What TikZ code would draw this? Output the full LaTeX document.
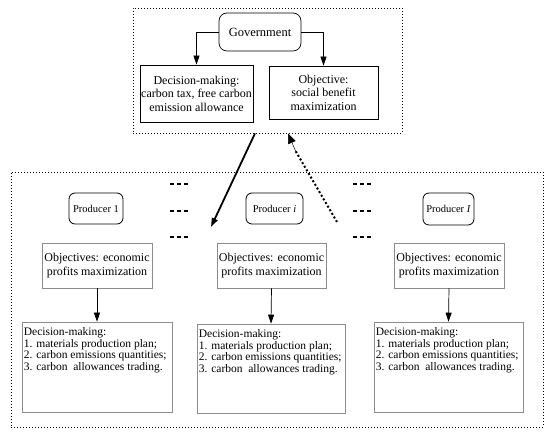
\documentclass[tikz,border=0pt]{standalone}
\usepackage{fontspec}
\setmainfont{Liberation Serif}
\usetikzlibrary{arrows.meta}
\begin{document}
\begin{tikzpicture}[x=1pt,y=-1pt,
	area/.style={draw, line width=0.8pt, dash pattern=on 0.9pt off 2.1pt, inner sep=0pt},
	blk/.style={draw, line width=0.7pt, inner sep=0pt, align=center, font=\fontsize{12}{13.5}\selectfont},
	gry/.style={draw=black!45, line width=0.7pt, inner sep=0pt, align=center, font=\fontsize{12}{14}\selectfont},
	prod/.style={draw, rounded corners=6pt, line width=0.8pt, inner sep=0pt, font=\fontsize{10.5}{12}\selectfont},
	dec/.style={anchor=north west, align=left, inner sep=0pt, font=\fontsize{11.5}{11.5}\selectfont},
	tip/.style={-{Triangle[length=9pt,width=6pt]}}]
	\useasboundingbox (0,0) rectangle (550,435);
	
	% government level
	\node[area, minimum width=269pt, minimum height=125pt] (govarea) at (267.5,70.5) {};
	\node[blk, rounded corners=8pt, minimum width=82pt, minimum height=38pt, font=\fontsize{12.5}{14}\selectfont] (gov) at (260,32) {Government};
	\node[blk, minimum width=113pt, minimum height=57pt] (govdec) at (196.5,93.5) {Decision-making:\\carbon tax, free carbon\\emission allowance};
	\node[blk, minimum width=109pt, minimum height=53pt] (govobj) at (323.5,92.5) {Objective:\\social benefit\\maximization};
	\draw[tip, line width=0.7pt] (gov.west) -| (govdec.north);
	\draw[tip, line width=0.7pt] (gov.east) -| (govobj.north);
	
	% producer level
	\node[area, minimum width=532pt, minimum height=255pt] (prodarea) at (277,299.5) {};
	\node[prod, minimum width=54pt, minimum height=31pt] (p1) at (96,208.5) {Producer 1};
	\node[prod, minimum width=57pt, minimum height=31pt] (pi) at (274.5,208.5) {Producer \textit{i}};
	\node[prod, minimum width=51pt, minimum height=32pt] (pI) at (448.5,209) {Producer \textit{I}};
	
	\node[gry, minimum width=110pt, minimum height=45pt] (obj1) at (97,265.5) {Objectives: economic\\profits maximization};
	\node[gry, minimum width=109pt, minimum height=45pt] (obji) at (271.5,265.5) {Objectives: economic\\profits maximization};
	\node[gry, minimum width=110pt, minimum height=45pt] (objI) at (449,265.5) {Objectives: economic\\profits maximization};
	
	\node[gry, minimum width=150pt, minimum height=90pt] (dec1) at (97,367) {};
	\node[gry, minimum width=148pt, minimum height=89pt] (deci) at (271,368.5) {};
	\node[gry, minimum width=149pt, minimum height=90pt] (decI) at (448.5,367) {};
	\node[dec] (dec1txt) at ([shift={(2pt,-6pt)}]dec1.north west) {Decision-making:\\1. materials production plan;\\2. carbon emissions quantities;\\3. carbon\ \ allowances trading.};
	\node[dec] (decitxt) at ([shift={(2pt,-6pt)}]deci.north west) {Decision-making:\\1. materials production plan;\\2. carbon emissions quantities;\\3. carbon\ \ allowances trading.};
	\node[dec] (decItxt) at ([shift={(2pt,-6pt)}]decI.north west) {Decision-making:\\1. materials production plan;\\2. carbon emissions quantities;\\3. carbon\ \ allowances trading.};
	
	\draw[tip, line width=0.7pt] (obj1.south) -- (dec1.north);
	\draw[tip, line width=0.7pt] (obji.south) -- (deci.north);
	\draw[tip, line width=0.7pt] (objI.south) -- (decI.north);
	
	% dots between producers
	\foreach \yy in {184,211,237}{
		\draw[line width=1.6pt, dash pattern=on 4pt off 3pt] (170,\yy) -- (189,\yy);
		\draw[line width=1.6pt, dash pattern=on 4pt off 3pt] (353,\yy) -- (372,\yy);
	}
	
	% links between levels
	\coordinate (down) at (211,227);
	\coordinate (up) at (337,222);
	\draw[tip, line width=1.8pt] (govarea.south -| 255,0) -- (down);
	\draw[line width=2pt, dash pattern=on 2pt off 2.2pt] (up) -- (295,150);
	\draw[-{Triangle[length=10pt,width=8pt]}, line width=0.5pt] (296,152) -- (govarea.south -| 288,0);
\end{tikzpicture}
\end{document}
